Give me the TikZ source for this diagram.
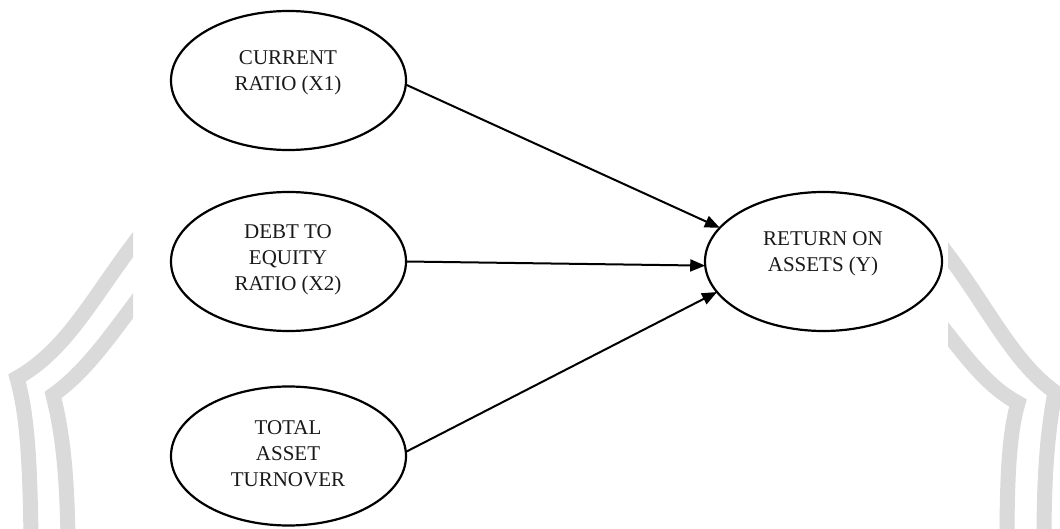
\documentclass[tikz,border=0pt]{standalone}
\usepackage{fontspec}
\setmainfont{Liberation Serif}
\usetikzlibrary{shapes.geometric,arrows.meta}
\definecolor{wmgrey}{HTML}{DADADA}
\tikzset{
  var/.style={ellipse, draw, line width=2.2pt, minimum width=235pt, minimum height=139pt, inner sep=0pt, outer sep=0pt},
  lbl/.style={align=center, font=\fontsize{21}{26}\selectfont, inner sep=0pt, text=black!90},
  link/.style={line width=2pt, -{Triangle[length=15pt,width=12pt]}},
  wm/.style={line width=15pt, draw=wmgrey, line join=miter}
}
\begin{document}
\begin{tikzpicture}[x=1pt,y=-1pt]
\useasboundingbox (0,0) rectangle (1060,529);
\fill[white] (0,0) rectangle (1060,529);
% watermark
\begin{scope}
  \clip (0,0) rectangle (133,529) (948,0) rectangle (1060,529);
  \draw[wm] (145,229) .. controls (95,292) and (70,348) .. (17,378) .. controls (26,410) and (30,450) .. (31,540);
  \draw[wm] (145,290) .. controls (112,333) and (88,370) .. (53,395) .. controls (62,430) and (67,470) .. (68,540);
  \draw[wm] (935,238) .. controls (985,300) and (1010,360) .. (1055,392) .. controls (1048,430) and (1044,470) .. (1044,540);
  \draw[wm] (935,318) .. controls (965,355) and (985,385) .. (1018,403) .. controls (1010,430) and (1007,470) .. (1007,540);
\end{scope}
% variables
\node[var] (X1) at (288.5,80.5) {};
\node[var] (X2) at (288.5,261.5) {};
\node[var] (X3) at (288.5,456) {};
\node[var, minimum width=237pt] (Y) at (823.5,261.5) {};
\node[lbl] (X1t) at (288,72.5) {CURRENT\\RATIO (X1)};
\node[lbl] (X2t) at (288,259.5) {DEBT TO\\EQUITY\\RATIO (X2)};
\node[lbl] (X3t) at (288,454) {TOTAL\\ASSET\\TURNOVER};
\node[lbl] (Yt) at (823,254) {RETURN ON\\ASSETS (Y)};
% connectors
\draw[link] (X1.-2) -- (Y.162.7);
\draw[link] (X2.0) -- (Y.182.4);
\draw[link] (X3.2) -- (Y.196);
\end{tikzpicture}
\end{document}
